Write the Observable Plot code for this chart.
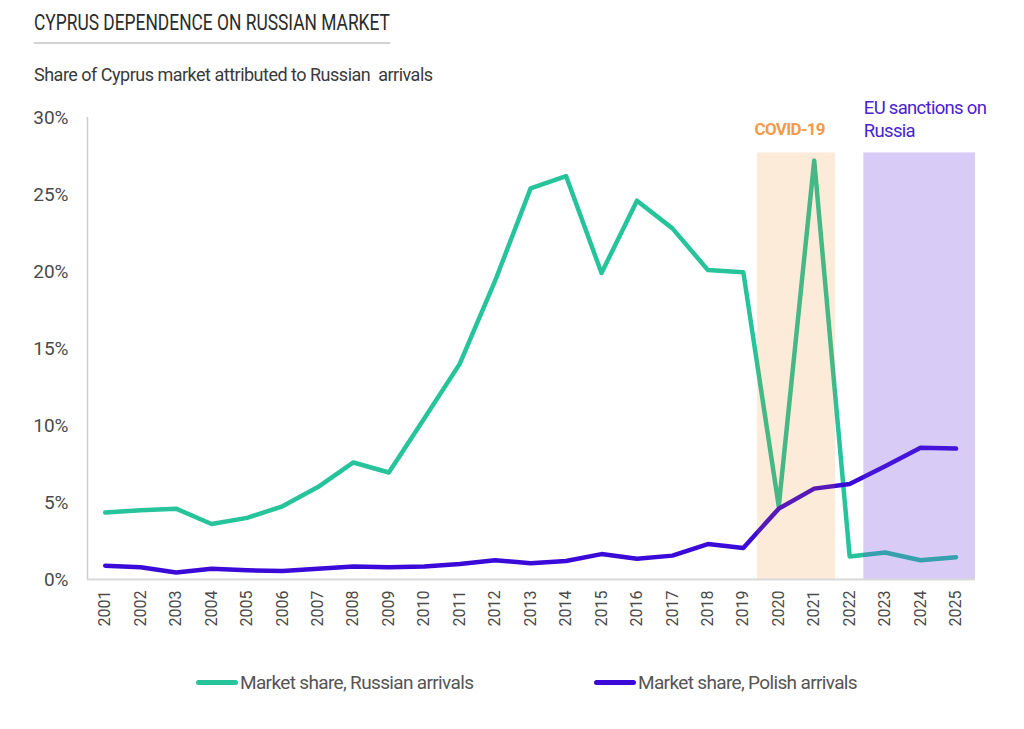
<!DOCTYPE html>
<html><head><meta charset="utf-8">
<script src="https://cdn.jsdelivr.net/npm/d3@7"></script>
<script src="https://cdn.jsdelivr.net/npm/@observablehq/plot@0.6"></script>
<style>
body{margin:0;background:#fff;font-family:Roboto,"DejaVu Sans",sans-serif;}
#wrap{position:relative;width:1024px;height:729px;overflow:hidden;}
#title{position:absolute;left:34px;top:10px;font-size:22px;line-height:26px;color:#2b2b2b;padding-bottom:6px;border-bottom:2px solid #d3d3d3;white-space:nowrap;transform:scaleX(0.79);transform-origin:0 0;}
#sub{position:absolute;left:34px;top:64px;font-size:18px;letter-spacing:-0.5px;color:#3a3a3a;white-space:nowrap;}
#chart{position:absolute;left:0;top:100px;}
#chart g[aria-label="text"] text{letter-spacing:-0.7px;}
.leg{position:absolute;top:671px;font-size:19px;letter-spacing:-0.65px;color:#555;display:flex;align-items:center;white-space:nowrap;}
.sw{width:42px;height:5px;border-radius:3px;margin-right:2px;}
</style></head>
<body><div id="wrap">
<div id="title">CYPRUS DEPENDENCE ON RUSSIAN MARKET</div>
<div id="sub">Share of Cyprus market attributed to Russian&nbsp; arrivals</div>
<div id="chart"></div>
<div class="leg" style="left:196px"><div class="sw" style="background:#27c49c"></div>Market share, Russian arrivals</div>
<div class="leg" style="left:594px"><div class="sw" style="background:#3b0ad8"></div>Market share, Polish arrivals</div>
</div>
<script>
const years = [2001,2002,2003,2004,2005,2006,2007,2008,2009,2010,2011,2012,2013,2014,2015,2016,2017,2018,2019,2020,2021,2022,2023,2024,2025];
const russian = [4.35,4.5,4.6,3.6,4.0,4.75,6.0,7.6,6.95,10.45,14.0,19.4,25.4,26.2,19.9,24.6,22.8,20.1,19.95,4.75,27.2,1.5,1.75,1.25,1.45];
const polish = [0.9,0.8,0.45,0.7,0.6,0.55,0.7,0.85,0.8,0.85,1.0,1.25,1.05,1.2,1.65,1.35,1.55,2.3,2.05,4.6,5.9,6.2,7.35,8.55,8.5];
const yTicks = [0,5,10,15,20,25,30];
const periods = [
  {label:"COVID-19", x1:2019.4, x2:2021.6, top:27.7, fill:"#f27c06", opacity:0.15},
  {label:"EU sanctions on\nRussia", x1:2022.4, x2:2025.55, top:27.7, fill:"#6434e0", opacity:0.25}
];

const rus = years.map((y,i)=>({year:y, value:russian[i]}));
const pol = years.map((y,i)=>({year:y, value:polish[i]}));

const chart = Plot.plot({
  width:1024, height:560,
  marginTop:17, marginBottom:81, marginLeft:87, marginRight:49,
  x:{domain:[2000.5,2025.55], axis:null},
  y:{domain:[0,30], axis:null},
  style:{fontFamily:'Roboto,"DejaVu Sans",sans-serif', color:"#4a4a4a", background:"#fff", overflow:"visible"},
  marks:[
    Plot.ruleX([2000.5],{y1:0,y2:30,stroke:"#cfcfcf",strokeWidth:1.5}),
    Plot.line(rus,{x:"year",y:"value",stroke:"#27c49c",strokeWidth:4.5}),
    Plot.line(pol,{x:"year",y:"value",stroke:"#3b0ad8",strokeWidth:4.5}),
    Plot.rect([periods[0]],{x1:"x1",x2:"x2",y1:0,y2:"top",fill:"fill",fillOpacity:periods[0].opacity}),
    Plot.rect([periods[1]],{x1:"x1",x2:"x2",y1:0,y2:"top",fill:"fill",fillOpacity:periods[1].opacity}),
    Plot.ruleY([0],{stroke:"#d9d9d9",strokeWidth:2}),
    Plot.axisY({ticks:yTicks,tickFormat:d=>d+"%",tickSize:0,tickPadding:19,fontSize:19,color:"#4a4a4a"}),
    Plot.axisX({ticks:years,tickFormat:d=>String(d),tickRotate:-90,tickSize:0,tickPadding:11,fontSize:16,color:"#4a4a4a"}),
    Plot.text([periods[0]],{x:"x1",y:29.2,text:"label",textAnchor:"start",dx:-3,fill:"#f39a4c",fontWeight:"bold",fontSize:17}),
    Plot.text([periods[1]],{x:"x1",y:29.94,text:"label",textAnchor:"start",lineAnchor:"middle",lineHeight:1.25,fill:"#4a22d0",fontSize:18.5})
  ]
});
document.getElementById("chart").appendChild(chart);
</script>
</body></html>
